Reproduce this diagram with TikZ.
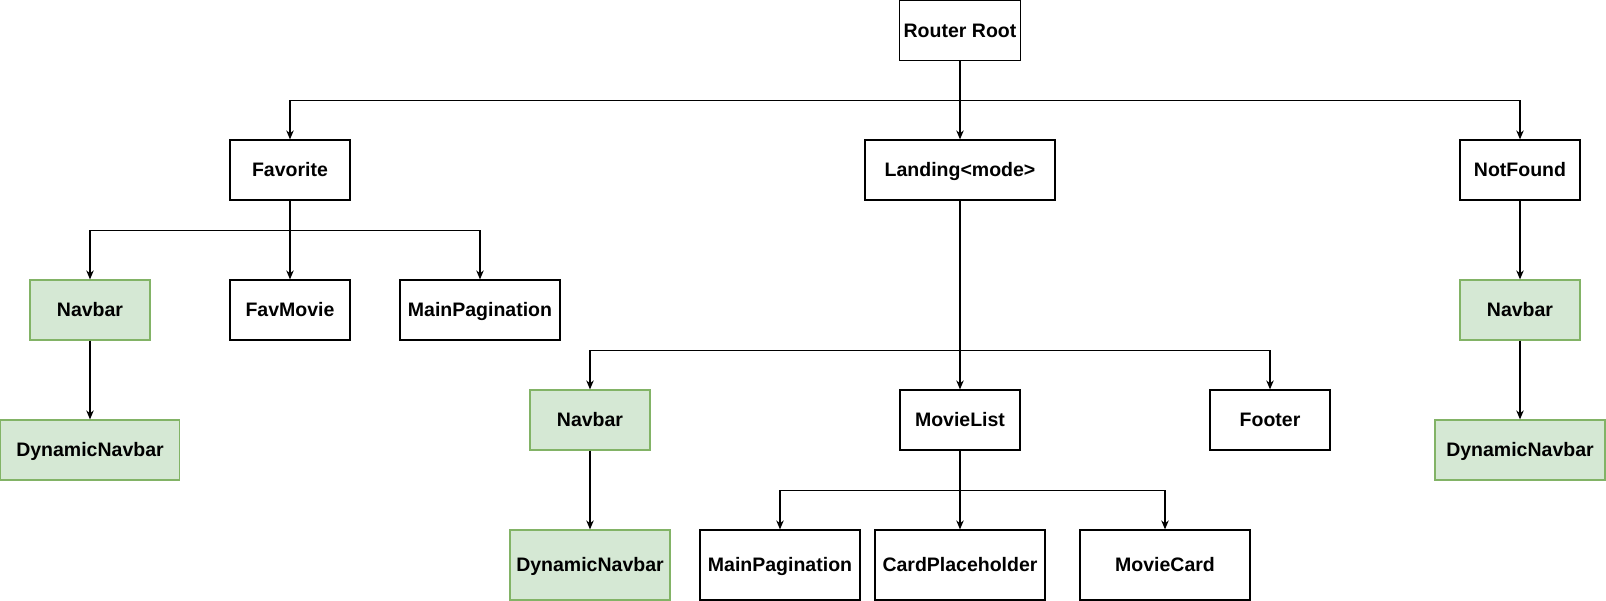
\documentclass[tikz,border=0pt]{standalone}
\usepackage{fontspec}
\setmainfont{Liberation Sans}
\usepackage{tikz}
\usetikzlibrary{arrows.meta}
\definecolor{navfill}{HTML}{D5E8D4}
\definecolor{navline}{HTML}{82B366}

\begin{document}
\begin{tikzpicture}[-{Stealth[length=1.8mm,width=1.5mm]}, line width=0.7pt,
   box/.style={draw=black, fill=white, minimum width=2.4cm, minimum height=1.2cm, inner sep=0pt, text height=0.76em, text depth=0em, font=\fontsize{11.1}{13}\selectfont\bfseries},
   navbox/.style={box, draw=navline, fill=navfill}]
   \useasboundingbox (0,0) rectangle (32.12,-12.02);
   % top level
   \node[box, minimum width=2.42cm] (root) at (19.2,-0.61) {Router Root};
   \node[box] (favorite) at (5.8,-3.4) {Favorite};
   \node[box, minimum width=3.8cm] (landing) at (19.2,-3.4) {Landing<mode>};
   \node[box] (notfound) at (30.4,-3.4) {NotFound};
   % favorite branch
   \node[navbox] (navL) at (1.8,-6.2) {Navbar};
   \node[box] (favmovie) at (5.8,-6.2) {FavMovie};
   \node[box, minimum width=3.2cm] (mainpagL) at (9.6,-6.2) {MainPagination};
   \node[navbox, minimum width=3.58cm] (dynL) at (1.8,-9.0) {DynamicNavbar};
   % landing branch
   \node[navbox] (navM) at (11.8,-8.4) {Navbar};
   \node[box] (movielist) at (19.2,-8.4) {MovieList};
   \node[box] (footer) at (25.4,-8.4) {Footer};
   \node[navbox, minimum width=3.2cm, minimum height=1.4cm] (dynM) at (11.8,-11.3) {DynamicNavbar};
   \node[box, minimum width=3.2cm, minimum height=1.4cm] (mainpagB) at (15.6,-11.3) {MainPagination};
   \node[box, minimum width=3.4cm, minimum height=1.4cm] (cardph) at (19.2,-11.3) {CardPlaceholder};
   \node[box, minimum width=3.4cm, minimum height=1.4cm] (moviecard) at (23.3,-11.3) {MovieCard};
   % notfound branch
   \node[navbox] (navR) at (30.4,-6.2) {Navbar};
   \node[navbox, minimum width=3.4cm] (dynR) at (30.4,-9.0) {DynamicNavbar};

   \draw (root.south) -- ++(0,-0.79) -| (favorite.north);
   \draw (root.south) -- (landing.north);
   \draw (root.south) -- ++(0,-0.79) -| (notfound.north);
   \draw (favorite.south) -- ++(0,-0.6) -| (navL.north);
   \draw (favorite.south) -- (favmovie.north);
   \draw (favorite.south) -- ++(0,-0.6) -| (mainpagL.north);
   \draw (navL.south) -- (dynL.north);
   \draw (landing.south) -- ++(0,-3.0) -| (navM.north);
   \draw (landing.south) -- (movielist.north);
   \draw (landing.south) -- ++(0,-3.0) -| (footer.north);
   \draw (navM.south) -- (dynM.north);
   \draw (movielist.south) -- ++(0,-0.8) -| (mainpagB.north);
   \draw (movielist.south) -- (cardph.north);
   \draw (movielist.south) -- ++(0,-0.8) -| (moviecard.north);
   \draw (notfound.south) -- (navR.north);
   \draw (navR.south) -- (dynR.north);
\end{tikzpicture}
\end{document}
